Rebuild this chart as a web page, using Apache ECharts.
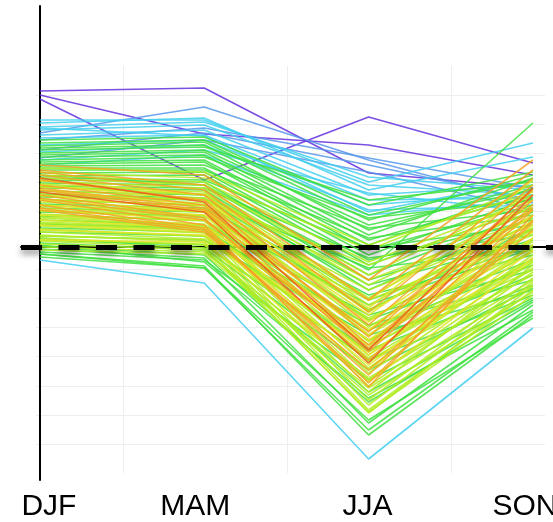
<!DOCTYPE html>
<html>
<head>
<meta charset="utf-8">
<script src="https://cdn.jsdelivr.net/npm/echarts@6/dist/echarts.min.js"></script>
<style>
html,body{margin:0;padding:0;background:#fff;}
#chart{width:553px;height:522px;}
</style>
</head>
<body>
<div id="chart"></div>
<script>
// ---- data (values per season: DJF, MAM, JJA, SON) ----
const categories = ['DJF', 'MAM', 'JJA', 'SON'];
const referenceLevel = 0;

const purpleLines = [
  [15.6, 15.9, 7.4, 5.9],
  [15.2, 11.3, 10.2, 7.2],
  [14.8, 6.7, 13.0, 8.4]
];
const blueLines = [
  [11.4, 14.0, 8.7, 4.4],
  [10.7, 11.9, 8.9, 5.9],
  [9.7, 11.4, 8.2, 4.7],
  [8.9, 10.7, 7.5, 3.7]
];
const cyanLines = [
  [12.7, 12.7, 6.5, 10.4],
  [12.4, 12.9, 5.7, 9.0],
  [12.0, 12.5, 7.0, 5.7],
  [11.7, 12.2, 6.2, 5.2],
  [11.2, 11.7, 5.2, 6.2],
  [10.9, 11.2, 4.7, 4.9],
  [10.2, 10.7, 4.2, 5.5],
  [9.5, 10.2, 3.7, 4.2],
  [8.7, 9.7, 5.4, 3.5],
  [11.9, 11.1, 3.5, 6.7],
  [-1.3, -3.6, -21.2, -8.1],
  [8.2, 9.2, 3.2, 4.7]
];
const greenLines = [
  [7.2, 6.2, -2.3, 12.4],
  [10.7, 11.0, 4.2, 7.5],
  [10.4, 10.7, 3.2, 6.7],
  [10.1, 10.5, 2.7, 7.2],
  [9.9, 10.2, 1.7, 6.2],
  [9.7, 10.0, 4.7, 6.5],
  [9.4, 9.7, 2.2, 5.7],
  [9.2, 9.5, 1.2, 6.9],
  [9.0, 9.2, 0.7, 5.2],
  [8.7, 9.0, 2.9, 4.7],
  [8.5, 8.7, 0.2, 5.9],
  [8.3, 8.5, -0.3, 4.2],
  [8.1, 8.2, 1.9, 3.7],
  [7.9, 7.9, -0.8, 4.9],
  [7.7, 7.7, 0.9, 3.2],
  [7.4, 7.5, -1.3, 2.7],
  [7.1, 7.2, -1.8, 3.9],
  [6.9, 6.7, -0.1, 2.2],
  [6.7, 6.5, -2.8, 3.5],
  [6.4, 6.2, -3.3, 1.7],
  [6.1, 5.9, -1.1, 1.2],
  [5.9, 5.7, -4.3, 2.9],
  [5.6, 5.2, -3.8, 0.7],
  [5.3, 4.9, -5.3, 0.2],
  [5.0, 4.7, -2.1, -0.3],
  [4.7, 4.2, -6.3, 1.9],
  [4.3, 3.9, -4.8, -0.8],
  [3.9, 3.5, -7.3, -1.3],
  [3.5, 3.1, -5.8, -0.1],
  [3.1, 2.7, -8.3, -1.8],
  [2.7, 2.2, -6.8, -2.3],
  [2.3, 1.9, -9.3, -2.8],
  [1.9, 1.5, -7.8, -3.3],
  [1.5, 1.1, -10.3, -3.8],
  [1.1, 0.7, -8.8, -4.3],
  [0.7, 0.2, -11.3, -4.8],
  [0.4, -0.3, -14.5, -5.3],
  [0.1, -0.8, -15.5, -5.5],
  [-0.2, -1.1, -17.6, -5.8],
  [-0.7, -2.1, -18.3, -6.5],
  [-0.7, -1.9, -18.8, -6.8],
  [-1.0, -2.1, -17.3, -7.1],
  [0.2, -1.5, -15.1, -6.3],
  [-0.5, -1.3, -13.3, -5.1],
  [0.9, -0.1, -12.3, -4.1]
];
const limeLines = [
  [7.5, 6.9, -0.3, 6.2],
  [7.2, 6.5, -1.5, 4.7],
  [6.9, 6.2, -2.8, 5.2],
  [6.6, 5.9, -3.8, 3.7],
  [6.3, 5.5, -5.1, 4.2],
  [6.0, 5.2, -5.8, 2.5],
  [5.7, 4.9, -6.5, 3.2],
  [5.4, 4.7, -7.3, 1.5],
  [5.1, 4.4, -8.0, 1.9],
  [4.8, 4.1, -8.8, 0.7],
  [4.5, 3.8, -9.5, 0.9],
  [4.2, 3.5, -10.1, -0.3],
  [3.9, 3.2, -10.8, 0.2],
  [3.6, 2.9, -11.5, -1.1],
  [3.3, 2.6, -12.1, -0.8],
  [3.0, 2.3, -12.6, -1.5],
  [2.7, 2.0, -13.3, -2.1],
  [2.4, 1.7, -13.9, -2.5],
  [2.1, 1.4, -14.5, -1.8],
  [1.8, 1.1, -15.3, -3.1],
  [1.5, 0.8, -15.8, -3.5],
  [1.2, 0.5, -16.3, -4.3],
  [0.9, 0.2, -16.6, -3.9],
  [0.6, -0.1, -16.5, -4.8],
  [0.3, -0.3, -14.8, -4.5],
  [7.9, 7.5, 0.2, 5.5],
  [4.7, 4.2, -4.3, 2.2],
  [3.7, 3.1, -5.3, 1.2],
  [3.2, 2.7, -7.1, 0.5],
  [2.2, 1.7, -9.3, -0.5],
  [1.7, 1.1, -10.5, -1.3],
  [6.1, 5.3, -3.3, 2.9],
  [5.2, 4.7, -1.8, 3.9],
  [2.9, 2.1, -8.3, -0.1],
  [0.7, 0.3, -11.3, -2.8],
  [0.0, -0.5, -13.1, -3.3],
  [-0.3, -0.7, -14.1, -3.8],
  [1.1, 0.7, -9.8, -2.3],
  [4.1, 3.7, -6.3, 1.7],
  [2.5, 1.9, -11.1, -1.5]
];
const yellowLines = [
  [6.7, 5.2, -5.3, 5.7],
  [5.7, 4.2, -6.8, 4.7],
  [4.7, 3.5, -8.3, 3.2],
  [3.7, 2.7, -9.8, 2.2],
  [2.7, 1.9, -10.8, 0.9],
  [1.7, 1.2, -12.3, -0.3],
  [5.2, 3.7, -7.5, 3.7],
  [3.2, 2.2, -9.3, 1.5],
  [0.7, 0.5, -13.5, -1.1],
  [6.2, 4.7, -6.1, 6.7],
  [2.2, 1.5, -11.8, 0.2],
  [4.2, 3.2, -8.8, 2.7]
];
const orangeLines = [
  [8.2, 7.2, -3.3, 8.7],
  [7.7, 6.2, -5.3, 7.7],
  [7.2, 5.2, -7.8, 6.2],
  [6.7, 4.7, -9.0, 5.7],
  [6.2, 4.2, -9.8, 4.7],
  [5.7, 3.7, -10.5, 4.2],
  [5.2, 2.9, -11.3, 3.7],
  [4.7, 2.2, -14.0, 3.2],
  [4.2, 1.9, -13.6, 2.5],
  [3.7, 1.5, -12.3, 1.7],
  [7.5, 5.7, -6.5, 6.9],
  [5.9, 3.9, -8.5, 5.2],
  [4.9, 2.7, -10.1, 3.9],
  [3.9, 1.7, -12.8, 2.7]
];
const redLines = [
  [5.5, 3.5, -11.6, 5.2],
  [6.9, 4.5, -10.3, 5.9]
];

// ---- styling ----
const groups = [
  { lines: purpleLines, color: '#6430dc' },
  { lines: blueLines,   color: '#5696ea' },
  { lines: cyanLines,   color: '#42cfee' },
  { lines: greenLines,  color: '#3fe03f' },
  { lines: limeLines,   color: '#b2ec22' },
  { lines: yellowLines, color: '#e4e42a' },
  { lines: orangeLines, color: '#f4a224' },
  { lines: redLines,    color: '#f0561a' }
];

const series = [];
groups.forEach(function (g, gi) {
  g.lines.forEach(function (vals) {
    series.push({
      type: 'line',
      xAxisIndex: 0, yAxisIndex: 0,
      data: vals.map(function (v, i) { return [i, v]; }),
      symbol: 'none',
      silent: true,
      z: 2 + gi * 0.01,
      lineStyle: { color: g.color, width: 1.6, opacity: 0.85 }
    });
  });
});
series.push({
  type: 'line',
  xAxisIndex: 0, yAxisIndex: 0,
  data: [],
  z: 10,
  markLine: {
    silent: true,
    symbol: 'none',
    label: { show: false },
    animation: false,
    lineStyle: {
      color: '#000', width: 5, type: [21, 16.5],
      shadowColor: 'rgba(0,0,0,0.45)', shadowBlur: 6, shadowOffsetY: 4
    },
    data: [{ yAxis: referenceLevel }]
  }
});

const labelFont = { fontFamily: 'Liberation Sans, Arial, sans-serif', fontSize: 30, color: '#000' };

const chart = echarts.init(document.getElementById('chart'), null, { renderer: 'canvas' });
chart.setOption({
  animation: false,
  backgroundColor: '#fff',
  grid: [
    { left: 21, top: 6, width: 554, height: 474, containLabel: false, outerBoundsMode: 'none' },
    { left: 36, top: 66, width: 509, height: 407, containLabel: false, outerBoundsMode: 'none' },
    { left: -41.3, top: 66, width: 586.3, height: 407, containLabel: false, outerBoundsMode: 'none' }
  ],
  xAxis: [
    {
      type: 'value', gridIndex: 0, min: -0.115, max: 3.256,
      axisLine: { show: true, lineStyle: { color: '#000', width: 2 } },
      axisTick: { show: false },
      splitLine: { show: false },
      axisLabel: {
        customValues: [0, 1, 2, 3],
        margin: 12,
        formatter: function (v) {
          const i = Math.round(v);
          const key = ['a', 'b', 'c', 'd'][i];
          return '{' + key + '|' + categories[i] + '}';
        },
        rich: {
          a: Object.assign({ padding: [0, 0, 0, 18] }, labelFont),
          b: Object.assign({ padding: [0, 18, 0, 0] }, labelFont),
          c: Object.assign({ padding: [0, 2, 0, 0] }, labelFont),
          d: Object.assign({ padding: [0, 16, 0, 0] }, labelFont)
        }
      }
    },
    {
      type: 'value', gridIndex: 1, min: 0, max: 1,
      axisLine: { show: false }, axisTick: { show: false }, axisLabel: { show: false },
      splitLine: { show: false }
    },
    {
      type: 'value', gridIndex: 2, min: 0, max: 3.568, interval: 1,
      axisLine: { show: false }, axisTick: { show: false }, axisLabel: { show: false },
      splitLine: { show: true, showMinLine: false, showMaxLine: false, lineStyle: { color: '#eeeeee', width: 1 } }
    }
  ],
  yAxis: [
    {
      type: 'value', gridIndex: 0, min: -23.3, max: 24.1,
      axisLine: { show: true, lineStyle: { color: '#000', width: 2 } },
      axisTick: { show: false }, axisLabel: { show: false },
      splitLine: { show: false }
    },
    {
      type: 'value', gridIndex: 1, min: 0, max: 14, interval: 1,
      axisLine: { show: false }, axisTick: { show: false }, axisLabel: { show: false },
      splitLine: { show: true, showMinLine: false, showMaxLine: false, lineStyle: { color: '#eeeeee', width: 1 } }
    },
    {
      type: 'value', gridIndex: 2, min: 0, max: 1,
      axisLine: { show: false }, axisTick: { show: false }, axisLabel: { show: false },
      splitLine: { show: false }
    }
  ],
  series: series
});
</script>
</body>
</html>
